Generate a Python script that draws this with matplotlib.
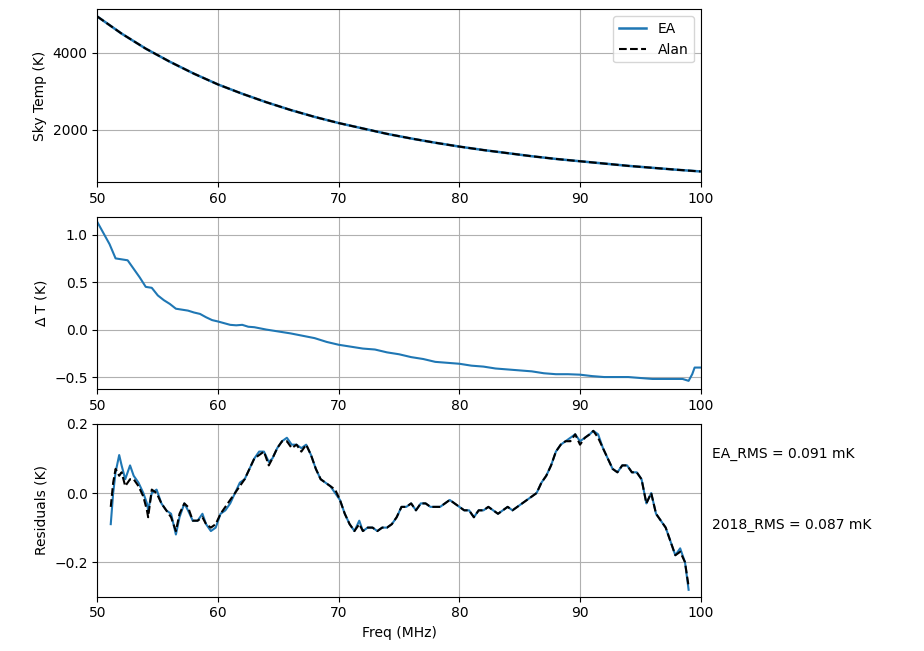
import numpy as np
from matplotlib import pyplot as plt
from matplotlib.ticker import MultipleLocator

# sky temperature (K), every 2 MHz
sky_freq = list(range(50, 101, 2))
sky_ea = [4930, 4490, 4100, 3760, 3450, 3170, 2930, 2710, 2510, 2330, 2170, 2030, 1890,
          1770, 1660, 1560, 1470, 1390, 1310, 1240, 1180, 1120, 1060, 1010, 960, 915]
sky_alan = [4930, 4490, 4100, 3760, 3450, 3170, 2930, 2710, 2510, 2330, 2170, 2030, 1890,
            1770, 1660, 1560, 1470, 1390, 1310, 1240, 1180, 1120, 1060, 1010, 960, 915]

# difference EA - Alan (K)
dt_freq = [50, 51, 51.5, 52, 52.5, 53, 53.5, 54, 54.5, 55, 55.5, 56, 56.5, 57, 57.5, 58, 58.5,
           59, 59.5, 60, 61, 61.5, 62, 62.5, 63, 64, 65, 66, 67, 68, 69, 70, 71, 72, 73, 74,
           75, 76, 77, 78, 79, 80, 81, 82, 83, 84, 85, 86, 87, 88, 89, 90, 91, 92, 93, 94, 95,
           96, 97, 98, 98.5, 99, 99.3, 99.5, 100]
dt_vals = [1.13, 0.90, 0.75, 0.74, 0.73, 0.64, 0.55, 0.45, 0.44, 0.36, 0.31, 0.27, 0.22, 0.21,
           0.20, 0.18, 0.165, 0.13, 0.10, 0.085, 0.05, 0.045, 0.05, 0.03, 0.025, 0.0, -0.02,
           -0.04, -0.065, -0.09, -0.13, -0.16, -0.18, -0.20, -0.21, -0.24, -0.26, -0.29, -0.31,
           -0.34, -0.35, -0.36, -0.38, -0.39, -0.41, -0.42, -0.43, -0.44, -0.46, -0.47, -0.47,
           -0.475, -0.49, -0.50, -0.50, -0.50, -0.51, -0.52, -0.52, -0.52, -0.52, -0.54, -0.47,
           -0.40, -0.40]

# residuals (K)
res_freq = [51.1, 51.3, 51.5, 51.8, 52.0, 52.3, 52.7, 53.0, 53.4, 53.8, 54.1, 54.2, 54.5, 54.9,
            55.3, 55.7, 56.1, 56.5, 56.8, 57.2, 57.5, 57.9, 58.3, 58.7, 59.0, 59.4, 59.8, 60.2,
            60.6, 61.0, 61.4, 61.8, 62.2, 62.6, 63.0, 63.4, 63.8, 64.2, 64.5, 64.9, 65.3, 65.7,
            66.1, 66.5, 66.9, 67.3, 67.7, 68.1, 68.5, 68.9, 69.3, 69.7, 70.1, 70.5, 70.9, 71.3,
            71.7, 72.0, 72.4, 72.8, 73.2, 73.6, 74.0, 74.4, 74.8, 75.2, 75.6, 76.0, 76.4, 76.8,
            77.2, 77.6, 78.0, 78.4, 78.8, 79.2, 79.6, 80.0, 80.4, 80.8, 81.2, 81.6, 82.0, 82.4,
            82.8, 83.2, 83.6, 84.0, 84.4, 84.8, 85.2, 85.6, 86.0, 86.4, 86.8, 87.2, 87.6, 88.0,
            88.4, 88.8, 89.2, 89.6, 90.0, 90.4, 90.8, 91.1, 91.5, 91.9, 92.3, 92.7, 93.1, 93.5,
            93.9, 94.3, 94.7, 95.1, 95.5, 95.9, 96.3, 96.7, 97.1, 97.5, 97.9, 98.3, 98.7, 99.0]
res_alan = [-0.04, 0.03, 0.07, 0.05, 0.06, 0.02, 0.04, 0.04, 0.02, -0.01, -0.05, -0.07, 0.01, 0.00,
            -0.03, -0.05, -0.07, -0.11, -0.06, -0.03, -0.04, -0.08, -0.08, -0.07, -0.09, -0.10,
            -0.09, -0.06, -0.04, -0.02, 0.00, 0.02, 0.04, 0.07, 0.10, 0.11, 0.12, 0.08, 0.10,
            0.13, 0.15, 0.15, 0.13, 0.14, 0.12, 0.14, 0.11, 0.07, 0.04, 0.03, 0.02, 0.01, -0.02,
            -0.06, -0.09, -0.11, -0.09, -0.11, -0.10, -0.10, -0.11, -0.10, -0.10, -0.09, -0.07,
            -0.04, -0.04, -0.03, -0.05, -0.03, -0.03, -0.04, -0.04, -0.04, -0.03, -0.02, -0.03,
            -0.04, -0.05, -0.05, -0.07, -0.05, -0.05, -0.04, -0.05, -0.06, -0.05, -0.04, -0.05,
            -0.04, -0.03, -0.02, -0.01, 0.00, 0.03, 0.05, 0.08, 0.12, 0.14, 0.15, 0.15, 0.17,
            0.14, 0.16, 0.17, 0.18, 0.16, 0.13, 0.10, 0.07, 0.06, 0.08, 0.08, 0.06, 0.06, 0.04,
            -0.03, 0.00, -0.06, -0.08, -0.10, -0.14, -0.18, -0.17, -0.20, -0.27]
res_ea = [-0.09, 0.00, 0.06, 0.11, 0.08, 0.04, 0.08, 0.05, 0.03, 0.00, -0.03, -0.05, 0.00, 0.01,
          -0.03, -0.05, -0.06, -0.12, -0.07, -0.03, -0.05, -0.08, -0.08, -0.06, -0.09, -0.11,
          -0.10, -0.06, -0.05, -0.03, 0.00, 0.03, 0.04, 0.07, 0.10, 0.12, 0.12, 0.09, 0.10,
          0.13, 0.15, 0.16, 0.14, 0.14, 0.13, 0.14, 0.11, 0.07, 0.04, 0.03, 0.02, 0.00, -0.02,
          -0.06, -0.09, -0.11, -0.08, -0.11, -0.10, -0.10, -0.11, -0.10, -0.10, -0.09, -0.07,
          -0.04, -0.04, -0.03, -0.05, -0.03, -0.03, -0.04, -0.04, -0.04, -0.03, -0.02, -0.03,
          -0.04, -0.05, -0.05, -0.07, -0.05, -0.05, -0.04, -0.05, -0.06, -0.05, -0.04, -0.05,
          -0.04, -0.03, -0.02, -0.01, 0.00, 0.03, 0.05, 0.08, 0.12, 0.14, 0.15, 0.16, 0.17,
          0.15, 0.16, 0.17, 0.18, 0.17, 0.13, 0.10, 0.07, 0.06, 0.08, 0.08, 0.06, 0.06, 0.04,
          -0.03, 0.00, -0.06, -0.08, -0.10, -0.14, -0.18, -0.16, -0.20, -0.28]

ea_rms = 0.091
alan_rms = 0.087


fig, (ax1, ax2, ax3) = plt.subplots(3, 1, figsize=(9.24, 6.51), dpi=100)
fig.subplots_adjust(left=0.1055, right=0.7583, top=0.9857, bottom=0.0834, hspace=0.2)

ax1.plot(sky_freq, sky_ea, color="tab:blue", lw=1.8, label="EA")
ax1.plot(sky_freq, sky_alan, "k--", lw=1.5, label="Alan")
ax1.set_ylabel("Sky Temp (K)")
ax1.set_ylim(640, 5120)
ax1.yaxis.set_major_locator(MultipleLocator(2000))
ax1.legend(loc="upper right")

ax2.plot(dt_freq, dt_vals, color="tab:blue", lw=1.5)
ax2.set_ylabel(r"$\Delta$ T (K)")
ax2.set_ylim(-0.63, 1.19)

ax3.plot(res_freq, res_ea, color="tab:blue", lw=1.5)
ax3.plot(res_freq, res_alan, "k--", lw=1.5)
ax3.set_ylabel("Residuals (K)")
ax3.set_xlabel("Freq (MHz)")
ax3.set_ylim(-0.30, 0.20)
ax3.yaxis.set_major_locator(MultipleLocator(0.2))
ax3.text(1.019, 0.828, f"EA_RMS = {ea_rms:.3f} mK", transform=ax3.transAxes, va="center")
ax3.text(1.019, 0.416, f"2018_RMS = {alan_rms:.3f} mK", transform=ax3.transAxes, va="center")

for ax in (ax1, ax2, ax3):
    ax.set_xlim(50, 100)
    ax.grid()

plt.savefig("out.png")
